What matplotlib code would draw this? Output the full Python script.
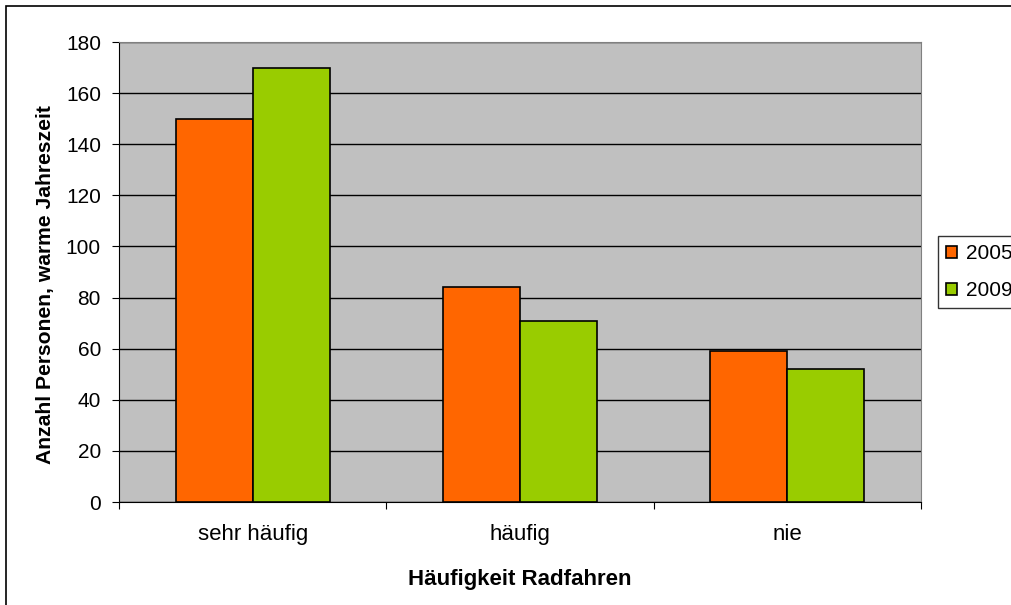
import matplotlib
matplotlib.use('Agg')
from matplotlib import pyplot as plt
from matplotlib.patches import Rectangle
import numpy as np

# data
categories = ['sehr häufig', 'häufig', 'nie']
years = ['2005', '2009']
values_2005 = [150, 84, 59]
values_2009 = [170, 71, 52]

colors = ['#FF6600', '#99CC00']

plt.rcParams['font.family'] = ['Liberation Sans', 'DejaVu Sans']

fig = plt.figure(figsize=(10.11, 6.05), dpi=100)
ax = fig.add_axes([119 / 1011, 1 - 502 / 605, 802 / 1011, 460 / 605])
ax.set_facecolor('#C0C0C0')

x = np.arange(len(categories))
w = 0.288
ax.bar(x - w / 2, values_2005, w, color=colors[0], edgecolor='black',
       linewidth=1.2, label=years[0], zorder=3)
ax.bar(x + w / 2, values_2009, w, color=colors[1], edgecolor='black',
       linewidth=1.2, label=years[1], zorder=3)

ax.set_xlim(-0.5, len(categories) - 0.5)
ax.set_ylim(0, 180)
ax.set_yticks(range(0, 181, 20))
ax.yaxis.grid(True, color='black', linewidth=1)
ax.set_axisbelow(True)

# category labels between boundary ticks
ax.set_xticks(np.arange(-0.5, len(categories), 1))
ax.set_xticklabels([])
ax.set_xticks(x, minor=True)
ax.set_xticklabels(categories, minor=True, fontsize=16)
ax.tick_params(axis='x', which='minor', length=0, pad=16)
ax.tick_params(axis='x', which='major', length=5, direction='out')
ax.tick_params(axis='y', length=5, direction='out', labelsize=15, pad=8)

for s in ['top', 'right']:
    ax.spines[s].set_color('#808080')
for s in ['left', 'bottom']:
    ax.spines[s].set_color('black')

ax.set_xlabel('Häufigkeit Radfahren', fontsize=16, fontweight='bold', labelpad=17)
ax.set_ylabel('Anzahl Personen, warme Jahreszeit', fontsize=15.2,
              fontweight='bold', labelpad=8)
ax.yaxis.set_label_coords(-0.080, 0.472)

leg = fig.legend(loc='upper left', bbox_to_anchor=(938 / 1011, 1 - 236 / 605),
                 frameon=True, fancybox=False, edgecolor='black', fontsize=15,
                 handlelength=0.5, handleheight=0.5, handletextpad=0.45,
                 borderpad=0.4, labelspacing=0.85, borderaxespad=0)
leg.get_frame().set_linewidth(1)

# chart border (left and top visible, rest cut off)
fig.patches.append(Rectangle((6 / 1011, -0.1), 1.2, 1 - 6 / 605 + 0.1,
                             transform=fig.transFigure, fill=False,
                             edgecolor='black', linewidth=1.2))

fig.savefig('out.png', dpi=100)
